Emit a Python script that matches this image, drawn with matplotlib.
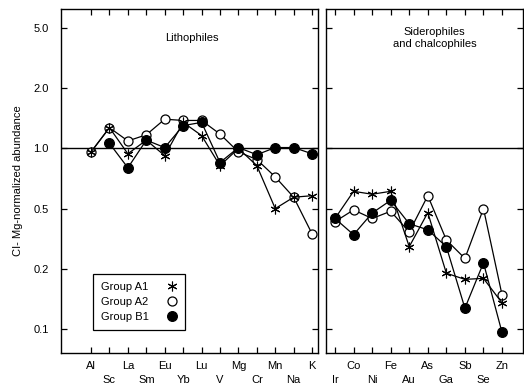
import numpy as np
import matplotlib
matplotlib.use("Agg")
import matplotlib.pyplot as plt
from matplotlib.lines import Line2D

plt.rcParams["font.family"] = ["Liberation Sans", "DejaVu Sans"]

# --- data (CI- and Mg-normalized abundances) ---
litho = ["Al", "Sc", "La", "Sm", "Eu", "Yb", "Lu", "V", "Mg", "Cr", "Mn", "Na", "K"]
a1_litho = [0.96, 1.27, 0.94, 1.10, 0.92, 1.35, 1.16, 0.82, 1.00, 0.82, 0.50, 0.57, 0.58]
a2_litho = [0.96, 1.27, 1.09, 1.17, 1.40, 1.38, 1.38, 1.18, 0.96, 0.88, 0.72, 0.57, 0.34]
b1_litho = [np.nan, 1.06, 0.80, 1.10, 1.01, 1.30, 1.35, 0.85, 1.01, 0.93, 1.01, 1.01, 0.94]

sidero = ["Ir", "Co", "Ni", "Fe", "Au", "As", "Ga", "Sb", "Se", "Zn"]
a1_sidero = [0.43, 0.61, 0.59, 0.61, 0.28, 0.47, 0.19, 0.177, 0.179, 0.135]
a2_sidero = [0.41, 0.49, 0.43, 0.48, 0.35, 0.58, 0.31, 0.234, 0.50, 0.148]
b1_sidero = [0.43, 0.336, 0.467, 0.55, 0.397, 0.362, 0.28, 0.127, 0.219, 0.096]

yticks = [0.1, 0.2, 0.5, 1.0, 2.0, 5.0]
ytick_labels = ["0.1", "0.2", "0.5", "1.0", "2.0", "5.0"]

# the original plot spaces the 1-2-5 ticks evenly
_steps = np.log10([0.01, 0.02, 0.05, 0.1, 0.2, 0.5, 1, 2, 5, 10, 20])
_idx = np.arange(len(_steps)) - 3.0


def fwd(v):
    v = np.clip(np.asarray(v, dtype=float), 1e-6, None)
    return np.interp(np.log10(v), _steps, _idx)


def inv(x):
    return 10 ** np.interp(x, _idx, _steps)


W, H = 524, 386
fig = plt.figure(figsize=(W / 100, H / 100), dpi=100)
bot, top = 353, 9
ax1 = fig.add_axes([61 / W, 1 - bot / H, (318 - 61) / W, (bot - top) / H])
ax2 = fig.add_axes([326 / W, 1 - bot / H, (523 - 326) / W, (bot - top) / H])

series = [
    ("Group A2", a2_litho, a2_sidero, dict(marker="o", ms=6.5, mfc="white", mec="black", mew=0.9)),
    ("Group B1", b1_litho, b1_sidero, dict(marker="o", ms=7, mfc="black", mec="black", mew=0.9)),
    ("Group A1", a1_litho, a1_sidero, dict(marker=(6, 2, 0), ms=7, mec="black", mew=0.8)),
]

for ax, names, which in ((ax1, litho, 1), (ax2, sidero, 2)):
    x = np.arange(len(names))
    ax.set_yscale("function", functions=(fwd, inv))
    ax.axhline(1.0, color="black", lw=1.0, zorder=1)
    for lab, yl, ys, kw in series:
        y = yl if which == 1 else ys
        ax.plot(x, y, color="black", lw=0.9, zorder=3, **kw)
    ax.set_ylim(inv(-0.4), inv(5.317))
    ax.set_yticks(yticks)
    ax.minorticks_off()
    ax.set_xticks(x)
    off = 0 if which == 1 else 1
    ax.set_xticklabels([n if (i + off) % 2 == 0 else "\n" + n for i, n in enumerate(names)],
                       fontsize=8, linespacing=1.4)
    ax.tick_params(direction="in", top=True, right=True, length=4, width=0.9,
                   pad=6)
    for s in ax.spines.values():
        s.set_linewidth(1.0)

ax1.set_xlim(-1.63, 12.32)
ax2.set_xlim(-0.485, 10.13)
ax1.set_yticklabels(ytick_labels, fontsize=8)
ax1.tick_params(axis="y", pad=9)
ax2.set_yticklabels([])
ax1.set_ylabel("CI- Mg-normalized abundance", fontsize=8, labelpad=7)

ax1.text(0.51, 0.915, "Lithophiles", transform=ax1.transAxes, ha="center",
         va="center", fontsize=8)
ax2.text(0.55, 0.915, "Siderophiles\nand chalcophiles", transform=ax2.transAxes,
         ha="center", va="center", fontsize=8, linespacing=1.3)

handles = [Line2D([], [], ls="none", color="black", **kw) for _, _, _, kw in series]
order = [2, 0, 1]
leg = ax1.legend([handles[i] for i in order], [series[i][0] for i in order],
                 loc="lower left", bbox_to_anchor=(0.1245, 0.067), borderaxespad=0,
                 markerfirst=False, numpoints=1, handlelength=1.0, handletextpad=1.6,
                 fontsize=8, labelspacing=0.45, fancybox=False, framealpha=1,
                 edgecolor="black", borderpad=0.7)
leg.get_frame().set_linewidth(0.9)

fig.savefig("out.png", dpi=100)
